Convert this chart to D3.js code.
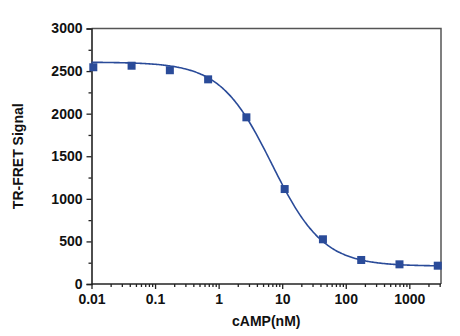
<!DOCTYPE html>
<html>
<head>
<meta charset="utf-8">
<script src="https://cdn.jsdelivr.net/npm/d3@7"></script>
<style>
  html, body { margin: 0; padding: 0; background: #fff; }
  svg { display: block; font-family: "Liberation Sans", Arial, sans-serif; }
</style>
</head>
<body>
<svg id="chart" width="460" height="336"></svg>
<script>
// cAMP concentrations (nM), 4-fold dilution series
const concentrations = [0.01068, 0.04272, 0.1709, 0.6836, 2.734, 10.94, 43.75, 175, 700, 2800];
// Measured TR-FRET signal at each concentration
const signal = [2545, 2563, 2510, 2403, 1957, 1115, 525, 282, 231, 215];

// Four-parameter logistic fit of the dose-response
const fitTop = 2605;
const fitBottom = 210;
const fitIC50 = 6.88;
const fitHill = 1.075;

const xTickValues = [0.01, 0.1, 1, 10, 100, 1000];
const xTickLabels = ["0.01", "0.1", "1", "10", "100", "1000"];
const yTickValues = [0, 500, 1000, 1500, 2000, 2500, 3000];
const yMinorValues = [250, 750, 1250, 1750, 2250, 2750];

const xTitle = "cAMP(nM)";
const yTitle = "TR-FRET Signal";

(function draw() {
  const svg = d3.select("#chart");
  const plotLeft = 91.5, plotRight = 441, plotTop = 28.5, plotBottom = 284;

  const x = d3.scaleLog().domain([0.01, 3150]).range([plotLeft, plotRight]);
  const y = d3.scaleLinear().domain([0, 3000]).range([plotBottom, plotTop]);

  const markColor = "#2a4b99";
  const axisColor = "#222";

  // Frame: top and right edges
  svg.append("path")
    .attr("d", `M${plotLeft},${plotTop}H${plotRight}V${plotBottom}`)
    .attr("fill", "none")
    .attr("stroke", "#555")
    .attr("stroke-width", 1.5);

  // Minor x ticks: 2..9 within each decade
  const xMinor = [];
  for (let e = -2; e <= 3; e++) {
    for (let m = 2; m <= 9; m++) {
      const v = m * Math.pow(10, e);
      if (v <= x.domain()[1]) xMinor.push(v);
    }
  }

  const xMinorAxis = svg.append("g").attr("transform", `translate(0,${plotBottom})`)
    .call(d3.axisBottom(x).tickValues(xMinor).tickSize(3).tickFormat(""));
  xMinorAxis.select(".domain").remove();
  const xAxis = svg.append("g").attr("transform", `translate(0,${plotBottom})`)
    .call(d3.axisBottom(x).tickValues(xTickValues).tickSize(5).tickPadding(5)
      .tickFormat((d, i) => xTickLabels[i]));
  xAxis.select(".domain").attr("d", `M${plotLeft},0H${plotRight}`);

  const yMinorAxis = svg.append("g").attr("transform", `translate(${plotLeft},0)`)
    .call(d3.axisLeft(y).tickValues(yMinorValues).tickSize(3).tickFormat(""));
  yMinorAxis.select(".domain").remove();
  svg.append("g").attr("transform", `translate(${plotLeft},0)`)
    .call(d3.axisLeft(y).tickValues(yTickValues).tickSize(5).tickPadding(4)
      .tickFormat(d3.format("d")));

  svg.selectAll(".domain, .tick line")
    .attr("stroke", axisColor)
    .attr("stroke-width", 1.3);
  svg.selectAll(".domain").attr("stroke-width", 1.6);
  svg.selectAll(".tick text")
    .attr("font-family", "'Liberation Sans', Arial, sans-serif")
    .attr("font-size", 14)
    .attr("font-weight", "bold")
    .attr("fill", "#111");

  // Fitted curve
  const logistic = c => fitBottom + (fitTop - fitBottom) / (1 + Math.pow(c / fitIC50, fitHill));
  const curveX = d3.range(0, 241).map(i => Math.pow(10, -2 + i * (Math.log10(3150) + 2) / 240));
  svg.append("path")
    .datum(curveX)
    .attr("fill", "none")
    .attr("stroke", markColor)
    .attr("stroke-width", 1.6)
    .attr("d", d3.line().x(d => x(d)).y(d => y(logistic(d))).curve(d3.curveMonotoneX));

  // Data points
  const sq = 8;
  svg.append("g").selectAll("rect")
    .data(concentrations)
    .join("rect")
    .attr("x", d => x(d) - sq / 2)
    .attr("y", (d, i) => y(signal[i]) - sq / 2)
    .attr("width", sq)
    .attr("height", sq)
    .attr("fill", markColor);

  // Axis titles
  svg.append("text")
    .attr("x", (plotLeft + plotRight) / 2)
    .attr("y", 326)
    .attr("text-anchor", "middle")
    .attr("font-size", 14)
    .attr("font-weight", "bold")
    .attr("fill", "#111")
    .text(xTitle);

  svg.append("text")
    .attr("transform", `translate(23,${(plotTop + plotBottom) / 2}) rotate(-90)`)
    .attr("text-anchor", "middle")
    .attr("font-size", 14)
    .attr("font-weight", "bold")
    .attr("fill", "#111")
    .text(yTitle);
})();
</script>
</body>
</html>
